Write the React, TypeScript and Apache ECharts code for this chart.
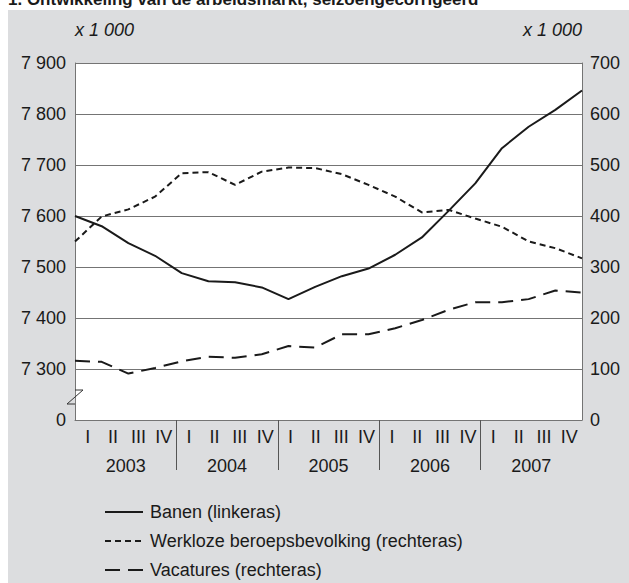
import React, { useEffect, useRef } from 'react';
import * as echarts from 'echarts';

const quarterIds = [
  '2003 I', '2003 II', '2003 III', '2003 IV',
  '2004 I', '2004 II', '2004 III', '2004 IV',
  '2005 I', '2005 II', '2005 III', '2005 IV',
  '2006 I', '2006 II', '2006 III', '2006 IV',
  '2007 I', '2007 II', '2007 III', '2007 IV',
];
const quarterNames = ['I', 'II', 'III', 'IV'];
const yearLabels = ['2003', '2004', '2005', '2006', '2007'];

const banen = [7600, 7580, 7547, 7522, 7488, 7472, 7470, 7460, 7437, 7461, 7482, 7497, 7524, 7558, 7610, 7664, 7733, 7775, 7808, 7846];
const werkloze = [350, 399, 413, 438, 484, 486, 461, 487, 495, 494, 482, 461, 438, 407, 412, 395, 379, 350, 337, 317];
const vacatures = [116, 114, 91, 102, 115, 124, 122, 129, 145, 142, 168, 168, 180, 196, 216, 231, 231, 237, 254, 250];

const seriesNames = ['Banen (linkeras)', 'Werkloze beroepsbevolking (rechteras)', 'Vacatures (rechteras)'];
const seriesDash: (number[] | null)[] = [null, [6, 4], [15, 8]];

const FONT = 'Liberation Sans, Arial, Helvetica, sans-serif';
const GRID_COLOR = '#747474';
const TEXT = '#1a1a1a';
const LINE = '#1a1a1a';
const FS = 18;

const fmtThousands = (v: number) => String(v).replace(/\B(?=(\d{3})+(?!\d))/g, ' ');

export default function App() {
  const ref = useRef<HTMLDivElement>(null);
  useEffect(() => {
    document.body.style.margin = '0';
    const chart = echarts.init(ref.current!, null, { renderer: 'svg' });
    const nQ = quarterIds.length;

    const legendGraphics: any[] = [];
    seriesNames.forEach((name, i) => {
      const y = 512 + i * 29;
      legendGraphics.push({
        type: 'line',
        silent: true,
        shape: { x1: 105, y1: y, x2: 143, y2: y },
        style: { stroke: LINE, lineWidth: 2, lineDash: seriesDash[i] || undefined },
      });
      legendGraphics.push({
        type: 'text',
        x: 150,
        y,
        style: {
          text: name,
          fontSize: FS,
          fontFamily: FONT,
          fill: TEXT,
          verticalAlign: 'middle',
          align: 'left',
        },
      });
    });

    const mkSeries = (i: number, data: number[], yAxisIndex: number) => ({
      name: seriesNames[i],
      type: 'line',
      xAxisIndex: 0,
      yAxisIndex,
      data,
      symbol: 'none',
      lineStyle: { color: LINE, width: 2, type: seriesDash[i] || 'solid' },
      itemStyle: { color: LINE },
    });

    chart.setOption({
      animation: false,
      backgroundColor: '#ffffff',
      textStyle: { fontFamily: FONT },
      grid: {
        left: 75, right: 47, top: 63, bottom: 163,
        show: true, backgroundColor: '#ffffff', borderWidth: 0,
      },
      xAxis: [
        {
          type: 'category',
          data: quarterIds,
          boundaryGap: false,
          show: false,
        },
        {
          type: 'value',
          min: 0,
          max: nQ,
          position: 'bottom',
          axisLine: { show: true, onZero: false, lineStyle: { color: GRID_COLOR, width: 1 } },
          axisTick: {
            show: true,
            inside: false,
            length: 50,
            customValues: [4, 8, 12, 16],
            lineStyle: { color: '#555555', width: 1 },
          },
          axisLabel: {
            show: true,
            margin: 8,
            fontSize: FS,
            color: TEXT,
            fontFamily: FONT,
            customValues: quarterIds.map((_, i) => i + 0.5),
            formatter: (v: number) => quarterNames[Math.floor(v) % 4],
          },
          splitLine: { show: false },
        },
        {
          type: 'value',
          min: 0,
          max: nQ,
          position: 'bottom',
          offset: 29,
          axisLine: { show: false },
          axisTick: { show: false },
          axisLabel: {
            show: true,
            margin: 8,
            fontSize: FS,
            color: TEXT,
            fontFamily: FONT,
            customValues: yearLabels.map((_, i) => i * 4 + 2),
            formatter: (v: number) => yearLabels[Math.round((v - 2) / 4)],
          },
          splitLine: { show: false },
        },
      ],
      yAxis: [
        {
          type: 'value',
          min: 7200,
          max: 7900,
          interval: 100,
          position: 'left',
          axisLine: { show: true, onZero: false, lineStyle: { color: GRID_COLOR, width: 1 } },
          axisTick: { show: false },
          axisLabel: {
            margin: 9,
            fontSize: FS,
            color: TEXT,
            fontFamily: FONT,
            formatter: (v: number) => (v === 7200 ? '0' : fmtThousands(v)),
          },
          splitLine: { show: true, lineStyle: { color: GRID_COLOR, width: 1 } },
        },
        {
          type: 'value',
          min: 0,
          max: 700,
          interval: 100,
          position: 'right',
          axisLine: { show: true, onZero: false, lineStyle: { color: GRID_COLOR, width: 1 } },
          axisTick: { show: false },
          axisLabel: {
            margin: 8,
            fontSize: FS,
            color: TEXT,
            fontFamily: FONT,
          },
          splitLine: { show: false },
        },
      ],
      series: [
        mkSeries(0, banen, 0),
        mkSeries(1, werkloze, 1),
        mkSeries(2, vacatures, 1),
      ],
      graphic: [
        {
          type: 'rect',
          z: -10,
          silent: true,
          shape: { x: 8, y: 10, width: 621, height: 573 },
          style: { fill: '#dcdddf' },
        },
        {
          type: 'text',
          x: 8,
          y: 8,
          style: {
            text: '1. Ontwikkeling van de arbeidsmarkt, seizoengecorrigeerd',
            fontSize: 17,
            fontWeight: 'bold',
            fontFamily: FONT,
            fill: TEXT,
            verticalAlign: 'bottom',
          },
        },
        {
          type: 'text',
          x: 75,
          y: 30,
          style: {
            text: 'x 1 000',
            fontSize: FS,
            fontStyle: 'italic',
            fontFamily: FONT,
            fill: TEXT,
            verticalAlign: 'middle',
            align: 'left',
          },
        },
        {
          type: 'text',
          x: 582,
          y: 30,
          style: {
            text: 'x 1 000',
            fontSize: FS,
            fontStyle: 'italic',
            fontFamily: FONT,
            fill: TEXT,
            verticalAlign: 'middle',
            align: 'right',
          },
        },
        {
          type: 'rect',
          z: 50,
          silent: true,
          shape: { x: 73.5, y: 390.5, width: 1.6, height: 13 },
          style: { fill: '#dcdddf' },
        },
        {
          type: 'polyline',
          z: 51,
          silent: true,
          shape: { points: [[75, 390], [83, 390], [67, 404], [75, 404]] },
          style: { stroke: '#333333', lineWidth: 1, fill: null },
        },
        ...legendGraphics,
      ],
    });
    return () => chart.dispose();
  }, []);
  return <div ref={ref} style={{ width: 629, height: 583 }} />;
}
